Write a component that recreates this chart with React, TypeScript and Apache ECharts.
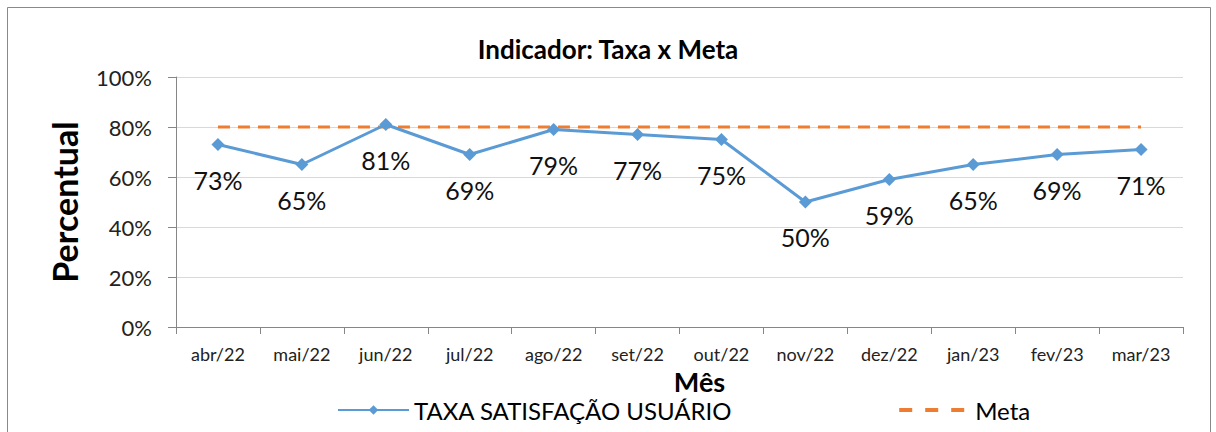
import React, { useEffect, useRef } from "react";
import * as echarts from "echarts";

const categories = ["abr/22", "mai/22", "jun/22", "jul/22", "ago/22", "set/22", "out/22", "nov/22", "dez/22", "jan/23", "fev/23", "mar/23"];
const taxaValues = [73, 65, 81, 69, 79, 77, 75, 50, 59, 65, 69, 71];
const metaValues = [80, 80, 80, 80, 80, 80, 80, 80, 80, 80, 80, 80];
const yTicks = { min: 0, max: 100, interval: 20 };

const FONT = "Lato, 'Open Sans', sans-serif";

export default function App() {
  const ref = useRef<HTMLDivElement>(null);
  useEffect(() => {
    document.body.style.margin = "0";
    const chart = echarts.init(ref.current!, null, { renderer: "svg" });
    chart.setOption({
      animation: false,
      backgroundColor: "#ffffff",
      textStyle: { fontFamily: FONT },
      title: {
        text: "Indicador: Taxa x Meta",
        left: "center",
        top: 31,
        textStyle: { fontFamily: FONT, fontWeight: "bold", fontSize: 26, color: "#000" },
      },
      graphic: [
        {
          type: "rect",
          shape: { x: 7.5, y: 7.5, width: 1203, height: 440 },
          style: { fill: "none", stroke: "#898989", lineWidth: 1 },
          silent: true,
        },
      ],
      grid: { left: 176, right: 33, top: 77, bottom: 105 },
      legend: {
        left: 337,
        top: 398,
        padding: 0,
        itemWidth: 71,
        itemHeight: 12,
        itemGap: 165,
        textStyle: { fontFamily: FONT, fontSize: 24, lineHeight: 22, color: "#000" },
        data: [
          { name: "TAXA SATISFAÇÃO USUÁRIO" },
          { name: "Meta", itemStyle: { opacity: 0 }, lineStyle: { type: [13, 13], width: 4 } },
        ],
      },
      xAxis: {
        type: "category",
        data: categories,
        boundaryGap: true,
        name: "Mês",
        nameLocation: "middle",
        nameGap: 41,
        nameTextStyle: { fontFamily: FONT, fontWeight: "bold", fontSize: 27, lineHeight: 22, color: "#000", padding: [0, 0, 0, 40] },
        axisLine: { lineStyle: { color: "#868686", width: 1 } },
        axisTick: { show: true, alignWithLabel: false, length: 7, lineStyle: { color: "#868686" } },
        axisLabel: { fontFamily: FONT, fontSize: 18, color: "#222", margin: 18, interval: 0 },
      },
      yAxis: {
        type: "value",
        min: yTicks.min,
        max: yTicks.max,
        interval: yTicks.interval,
        name: "Percentual",
        nameLocation: "middle",
        nameRotate: 90,
        nameGap: 95,
        nameTextStyle: { fontFamily: FONT, fontWeight: "bold", fontSize: 34, color: "#000" },
        axisLine: { show: true, lineStyle: { color: "#868686", width: 1 } },
        axisTick: { show: true, length: 8, lineStyle: { color: "#868686" } },
        axisLabel: { fontFamily: FONT, fontSize: 22, color: "#222", margin: 24, formatter: "{value}%" },
        splitLine: { show: true, lineStyle: { color: "#d9d9d9", width: 1 } },
      },
      series: [
        {
          name: "TAXA SATISFAÇÃO USUÁRIO",
          type: "line",
          data: taxaValues,
          symbol: "diamond",
          symbolSize: 13,
          color: "#5B9BD5",
          lineStyle: { color: "#5B9BD5", width: 3 },
          itemStyle: { color: "#5B9BD5" },
          label: {
            show: true,
            position: "bottom",
            distance: 16,
            formatter: "{c}%",
            fontFamily: FONT,
            fontSize: 25,
            color: "#111",
          },
          z: 3,
        },
        {
          name: "Meta",
          type: "line",
          data: metaValues,
          symbol: "none",
          color: "#ED7D31",
          lineStyle: { color: "#ED7D31", width: 3, type: [12, 8] },
          itemStyle: { color: "#ED7D31" },
          z: 2,
        },
      ],
    });
    return () => chart.dispose();
  }, []);
  return <div ref={ref} style={{ width: 1216, height: 432 }} />;
}
